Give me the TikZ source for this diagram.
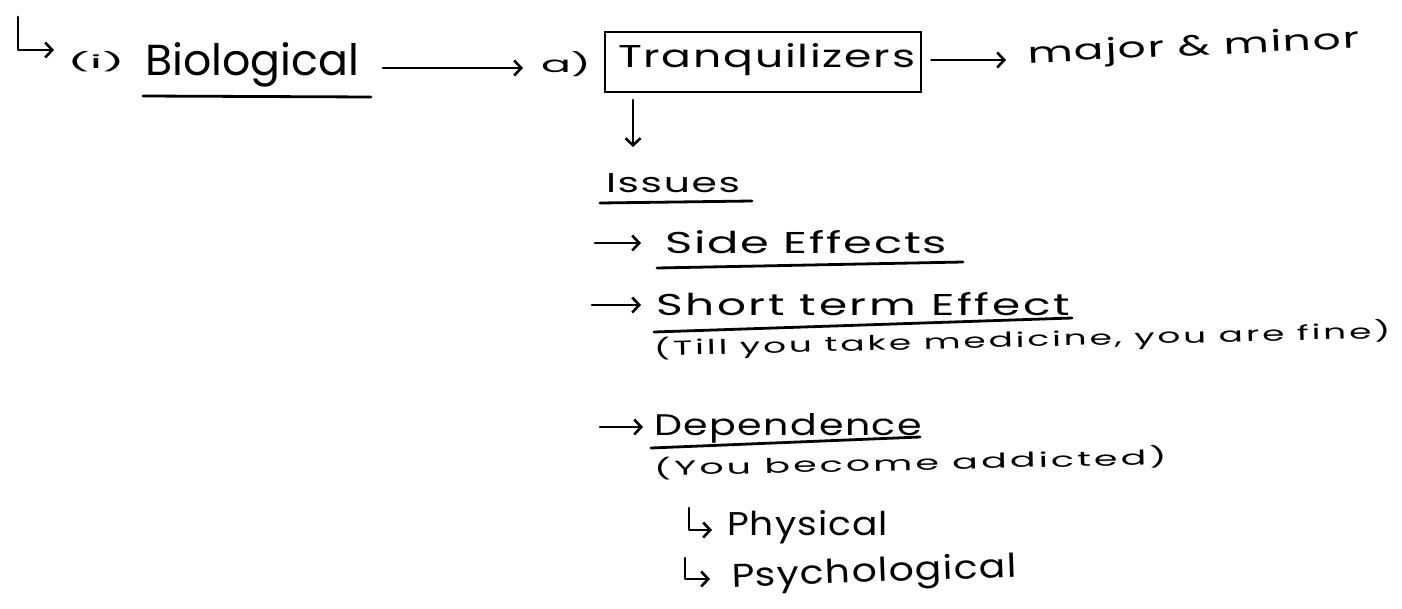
\documentclass[tikz,border=0pt]{standalone}
\usepackage{graphicx}
\usepackage{fontspec}
\setmainfont{Poppins}
\usetikzlibrary{arrows.meta}
\newcommand\hfs[1]{\fontsize{#1}{#1}\selectfont}
\newcommand\tx[4][0]{\resizebox{#2pt}{#3pt}{\hfs{30}\addfontfeatures{LetterSpace=#1}#4}}
\begin{document}
\begin{tikzpicture}[x=1pt,y=-1pt,
  ink/.style={line width=2.8pt, line cap=round, line join=round},
  arr/.style={ink,-{Straight Barb[length=7pt,width=15pt,line width=2.6pt]}},
  txt/.style={anchor=base west, inner sep=0pt, outer sep=0pt},
  boxline/.style={draw, line width=2.8pt, inner sep=0pt}]
\useasboundingbox[fill=white] (0,0) rectangle (1402,608);

% row 1
\coordinate (h1) at (18,17);
\node[txt] (one) at (67,68) {\tx{58}{17}{(i)}};
\node[txt] (bio) at (145,75) {\tx{214}{33}{Biological}};
\draw[ink] (143,96) -- (371,97);
\node[txt] (a) at (541,72) {\tx{50}{21}{a)}};
\node[boxline, minimum width=316pt, minimum height=60pt] (tr) at (763,62) {};
\node[txt] (trt) at (618,67) {\tx[4]{297}{24}{Tranquilizers}};
\node[txt, rotate=2.6] (mm) at (1028,63) {\tx[4]{332}{22}{major \& minor}};
\draw[arr] (h1) |- ([xshift=-13pt,yshift=18pt]one.base west);
\draw[arr] ([xshift=24pt,yshift=7pt]bio.base east) -- ([xshift=-18pt,yshift=4pt]a.base west);
\draw[arr] ([xshift=9pt,yshift=2pt]tr.east) -- ([xshift=-22pt,yshift=3pt]mm.base west);

% issues
\node[txt] (is) at (606,192) {\tx[4]{134}{19}{Issues}};
\draw[ink] (600,203) -- (752,201);
\coordinate (d1) at (633,100);
\draw[arr] (d1) -- ([xshift=27pt,yshift=45pt]is.base west);

% side effects
\coordinate (b1) at (595,243);
\node[txt] (se) at (665,253) {\tx[4]{282}{23}{Side Effects}};
\draw[ink] (657,268) -- (963,262);
\draw[arr] (b1) -- ([xshift=-24pt,yshift=10pt]se.base west);

% short term
\coordinate (b2) at (592,305);
\node[txt] (st) at (656,315) {\tx[6]{414}{23}{Short term Effect}};
\draw[ink] (654,332) -- (1072,318);
\draw[arr] (b2) -- ([xshift=-15pt,yshift=10pt]st.base west);
\node[txt, rotate=1.4] (till) at (654,356) {\tx[8]{737}{19}{(Till you take medicine, you are fine)}};

% dependence
\coordinate (b3) at (600,427);
\node[txt] (dep) at (654,435) {\tx[4]{268}{22}{Dependence}};
\draw[ink] (651,448) -- (920,437);
\draw[arr] (b3) -- ([xshift=-11pt,yshift=8pt]dep.base west);
\node[txt, rotate=1.3] (add) at (654,476) {\tx[8]{513}{19}{(You become addicted)}};

% physical / psychological
\node[txt] (phy) at (727,535) {\tx[3]{161}{25}{Physical}};
\node[txt, rotate=2] (psy) at (732,587) {\tx[3]{285}{25}{Psychological}};
\coordinate (h2) at (689,508);
\coordinate (h3) at (685,558);
\draw[arr] (h2) |- ([xshift=-15pt,yshift=5pt]phy.base west);
\draw[arr] (h3) |- ([xshift=-22pt,yshift=8pt]psy.base west);
\end{tikzpicture}
\end{document}
